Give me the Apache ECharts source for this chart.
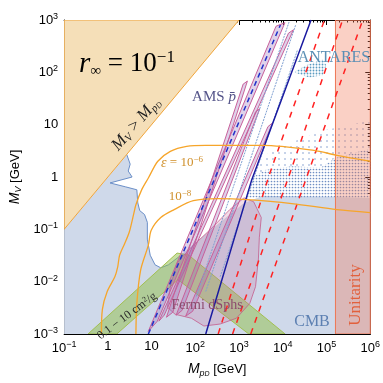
<!DOCTYPE html>
<html>
<head>
<meta charset="utf-8">
<script src="https://cdn.jsdelivr.net/npm/echarts@6/dist/echarts.min.js"></script>
<style>
  html, body { margin: 0; padding: 0; background: #fff; }
  #chart { width: 383px; height: 383px; }
</style>
</head>
<body>
<div id="chart"></div>
<script>
// tick labels
var xTicks = [0.1, 1, 10, 100, 1e3, 1e4, 1e5, 1e6];
var yTicks = [1e-3, 1e-2, 0.1, 1, 10, 100, 1e3];

// regions and curves, points are [M_pD, M_V] in GeV
var forbidden = [[0.1, 0.1], [0.1, 1000], [1000, 1000]];
var cmbEdge = [[2.7, 2.7], [3.24, 1.76], [2.92, 1.3], [3.58, 1.0], [1.12, 0.77], [2.51, 0.65], [4.6, 0.57],
  [4.84, 0.32], [5.35, 0.228], [6.89, 0.192], [8.0, 0.136], [8.0, 0.065], [9.3, 0.032], [12.0, 0.021],
  [16.2, 0.0184], [24.3, 0.021], [44.5, 0.031]];
var cmbTop = [[105, 0.057], [369, 0.136], [1300, 0.32], [3560, 0.44], [1e6, 0.4]];
var cmbDots = [[1500, 0.4], [1950, 0.96], [3900, 1.36], [16000, 1.6], [73000, 1.5], [1.6e5, 2.3], [1e6, 3.5], [1e6, 0.4]];
var cmbSparse = [[1950, 0.96], [3000, 2], [6000, 3.5], [20000, 5], [1e5, 8], [1e6, 12], [1e6, 3.5], [1.6e5, 2.3],
  [73000, 1.5], [16000, 1.6], [3900, 1.36]];
var antares = [[17900, 100], [34400, 136], [80900, 176], [99000, 136], [80900, 88], [40000, 80]];
var unitarity = [[1.6e5, 1e-3], [1.6e5, 1e3], [1e6, 1e3], [1e6, 1e-3]];
var sidm = [[0.352, 1e-3], [38.2, 0.0352], [70, 0.0323], [11300, 1e-3], [1670, 1e-3], [40.2, 0.0109], [1.6, 1e-3]];
var fermi = [[1300, 0.40], [2150, 0.337], [3220, 0.168], [2910, 0.0706], [2770, 0.0272], [2380, 0.00805],
  [1760, 0.00385], [869, 0.002], [369, 0.00155], [157, 0.00142], [81.3, 0.002], [34.5, 0.00238],
  [23.1, 0.00323], [26.8, 0.00805], [38.2, 0.0228], [81.3, 0.0457], [223, 0.1], [611, 0.238]];
var amsStripes = [
  [[8.4, 0.00112], [7000, 760], [11200, 890], [13.5, 0.00175]],
  [[14.7, 0.00176], [13500, 560], [17500, 650], [19.5, 0.0023]],
  [[21.9, 0.00209], [1240, 59.4], [1550, 68], [30.5, 0.0026]],
  [[36.3, 0.00228], [2380, 17.6], [2950, 20], [50, 0.00284]],
  [[60.1, 0.00219], [4580, 9.17], [5890, 10.9], [87, 0.00272]]
];
var amsThin = [
  [[105, 0.00521], [13900, 917]],
  [[173, 0.00648], [19700, 805]],
  [[369, 0.0124], [21800, 272]]
];
var amsDash = [[8.43, 1e-3], [8810, 805]];
var vLine = [[173, 1e-3], [1945, 0.88], [44200, 1000]];
var redLines = [
  [[333, 1e-3], [5070, 1.19], [89600, 1000]],
  [[710, 1e-3], [14600, 1.19], [233000, 1000]],
  [[1850, 1e-3], [38000, 1.19], [672000, 1000]]
];
var eps6 = [[0.713, 1e-3], [0.75, 0.00296], [0.966, 0.00648], [1.445, 0.0124], [1.68, 0.0192], [1.86, 0.0323],
  [2.39, 0.0521], [3.08, 0.0878], [3.96, 0.209], [4.38, 0.296], [5.92, 0.568], [8.43, 0.958], [13.9, 2.0],
  [26.8, 3.09], [63.2, 3.85], [173, 4.02], [3560, 4.02], [51400, 3.23], [172000, 2.6], [1e6, 2.0]];
var eps8 = [[4.38, 1e-3], [4.6, 0.00385], [5.63, 0.0168], [8.43, 0.0499], [9.8, 0.0958], [16.2, 0.168],
  [32.8, 0.238], [90, 0.352], [333, 0.385], [1510, 0.368], [16100, 0.31], [172000, 0.238], [1e6, 0.209]];

var serif = '"Liberation Serif", "DejaVu Serif", serif';
var sans = '"Liberation Sans", Arial, sans-serif';

function dotPattern(step, r, color) {
  var c = document.createElement('canvas');
  c.width = step; c.height = step;
  var ctx = c.getContext('2d');
  ctx.fillStyle = color;
  ctx.beginPath();
  ctx.arc(step / 2, step / 2, r, 0, Math.PI * 2);
  ctx.fill();
  return { image: c, repeat: 'repeat' };
}

function poly(pts, style, z) {
  return {
    type: 'custom', coordinateSystem: 'cartesian2d', z: z, silent: true, clip: true,
    data: pts,
    renderItem: function (params, api) {
      if (params.dataIndex !== 0) return null;
      return {
        type: 'polygon',
        shape: { points: pts.map(function (p) { return api.coord(p); }) },
        style: style
      };
    }
  };
}

function curve(pts, color, width, type, z, smooth) {
  return {
    type: 'line', data: pts, symbol: 'none', silent: true, z: z, smooth: smooth || false,
    lineStyle: { color: color, width: width, type: type || 'solid' }
  };
}

function minors(lo, hi) {
  var out = [];
  for (var e = lo; e < hi; e++) {
    for (var k = 2; k <= 9; k++) out.push(k * Math.pow(10, e));
  }
  return out;
}

function powLabel(v) {
  var e = Math.round(Math.log10(v));
  if (e === 0) return '1';
  if (e === 1) return '10';
  return '10{sup|' + (e < 0 ? '\u2212' : '') + Math.abs(e) + '}';
}

var labRich = { sup: { fontSize: 9, fontFamily: sans, color: '#000', verticalAlign: 'top', padding: [0, 0, 7, 0] } };

function axis(dim, pos, ticks, range, showLabel) {
  return {
    type: 'log', logBase: 10, min: range[0], max: range[1], position: pos,
    axisLine: { show: true, onZero: false, lineStyle: { color: '#000', width: 1 } },
    axisTick: { show: true, inside: true, length: 5, customValues: ticks, lineStyle: { color: '#000' } },
    axisLabel: { show: showLabel, customValues: ticks, formatter: powLabel, fontSize: 13, color: '#000',
      fontFamily: sans, rich: labRich, margin: 6 },
    splitLine: { show: false }
  };
}

function minorAxis(pos, lo, hi, range) {
  return {
    type: 'log', logBase: 10, min: range[0], max: range[1], position: pos,
    axisLine: { show: false, onZero: false },
    axisTick: { show: true, inside: true, length: 2.5, customValues: minors(lo, hi), lineStyle: { color: '#000' } },
    axisLabel: { show: false },
    splitLine: { show: false }
  };
}

var xr = [0.1, 1e6], yr = [1e-3, 1e3];
var xMain = axis('x', 'bottom', xTicks, xr, true);
xMain.name = '{it|M}{sub|p}{ss|D} [GeV]';
xMain.nameLocation = 'middle';
xMain.nameGap = 27;
xMain.nameTextStyle = { fontSize: 13, fontFamily: sans, color: '#000', rich: {
  it: { fontSize: 14, fontStyle: 'italic', fontFamily: sans },
  sub: { fontSize: 9, fontStyle: 'italic', fontFamily: sans, verticalAlign: 'bottom', padding: [6, 0, 0, 0] },
  ss: { fontSize: 7, fontStyle: 'italic', fontFamily: sans, verticalAlign: 'bottom', padding: [10, 0, 0, 0] }
} };
var yMain = axis('y', 'left', yTicks, yr, true);
yMain.name = '{it|M}{sub|V} [GeV]';
yMain.nameLocation = 'middle';
yMain.nameGap = 38;
yMain.nameRotate = 90;
yMain.nameTextStyle = { fontSize: 13, fontFamily: sans, color: '#000', rich: {
  it: { fontSize: 14, fontStyle: 'italic', fontFamily: sans },
  sub: { fontSize: 9, fontStyle: 'italic', fontFamily: sans, verticalAlign: 'bottom', padding: [6, 0, 0, 0] }
} };

var series = [];
series.push(poly([[0.1, 1e-3], [0.1, 0.1]].concat(cmbEdge, cmbTop, [[1e6, 1e-3]]),
  { fill: '#cfd9ea' }, 1));
series.push(poly(cmbSparse, { fill: dotPattern(6, 0.8, '#7f9ccc') }, 2));
series.push(poly(cmbDots, { fill: dotPattern(3, 0.85, '#6f8fc4') }, 2));
series.push(poly(antares, { fill: dotPattern(3, 0.9, '#5a9ac0') }, 2));
series.push(curve(cmbEdge, '#6b8fc8', 1, 'solid', 3));
series.push(poly(sidm, { fill: 'rgba(145,192,70,0.5)', stroke: '#a2bf52', lineWidth: 1 }, 4));
series.push(poly(fermi, { fill: 'rgba(200,95,145,0.22)', stroke: 'rgba(195,85,135,0.75)', lineWidth: 1 }, 5));
amsStripes.forEach(function (s) {
  series.push(poly(s, { fill: 'rgba(150,105,185,0.3)', stroke: '#c8609a', lineWidth: 1 }, 6));
});
amsThin.forEach(function (s) { series.push(curve(s, '#7fa0d2', 1, [2, 1], 6)); });
series.push(poly(forbidden, { fill: '#f5dfb8', stroke: '#f0a43a', lineWidth: 1 }, 7));
series.push(poly(unitarity, { fill: 'rgba(240,120,90,0.35)', stroke: '#ee7755', lineWidth: 1 }, 7));
series.push(curve(amsDash, '#2030c8', 1.5, [5, 4], 8));
series.push(curve(vLine, '#1a1aa0', 1.5, 'solid', 8));
redLines.forEach(function (s) { series.push(curve(s, '#ff2222', 1.5, [6, 6], 8)); });
series.push(curve(eps6, '#f6a52a', 1.3, 'solid', 9, 0.3));
series.push(curve(eps8, '#f6a52a', 1.3, 'solid', 9, 0.3));

var txt = function (x, y, text, size, color, rich, rot) {
  return {
    type: 'text', x: x, y: y, rotation: rot || 0, z: 100, silent: true,
    style: { text: text, font: size + 'px ' + serif, fill: color, align: 'center', verticalAlign: 'middle', rich: rich || {} }
  };
};

var graphics = [
  txt(127, 64, '{it|r}{sub|\u221e}{rm| = 10}{sup|\u22121}', 26, '#000', {
    it: { fontSize: 29, fontStyle: 'italic', fontFamily: serif },
    sub: { fontSize: 15, fontFamily: serif, verticalAlign: 'bottom', padding: [9, 0, 0, 0] },
    rm: { fontSize: 27, fontFamily: serif },
    sup: { fontSize: 17, fontFamily: serif, verticalAlign: 'top', padding: [0, 0, 11, 0] }
  }),
  txt(136, 124, '{it|M}{sub|V}{rm| > }{it|M}{sub|p}{ss|D}', 16, '#222', {
    it: { fontSize: 17, fontStyle: 'italic', fontFamily: serif },
    sub: { fontSize: 11, fontStyle: 'italic', fontFamily: serif, verticalAlign: 'bottom', padding: [6, 0, 0, 0] },
    ss: { fontSize: 8, fontStyle: 'italic', fontFamily: serif, verticalAlign: 'bottom', padding: [11, 0, 0, 0] },
    rm: { fontSize: 17, fontFamily: serif }
  }, 0.855),
  txt(214, 97, 'AMS {it|p\u0304}', 15, '#55558a', {
    it: { fontSize: 15, fontStyle: 'italic', fontFamily: serif, color: '#55558a' }
  }),
  txt(334, 58, 'ANTARES', 16, '#5b8fb5'),
  txt(182, 163, '{it|\u03b5}{rm| = 10}{sup|\u22126}', 13, '#cf8f2a', {
    it: { fontSize: 14, fontStyle: 'italic', fontFamily: serif, color: '#cf8f2a' },
    rm: { fontSize: 13, fontFamily: serif, color: '#cf8f2a' },
    sup: { fontSize: 9, fontFamily: serif, color: '#cf8f2a', verticalAlign: 'top', padding: [0, 0, 6, 0] }
  }),
  txt(180, 197, '{rm|10}{sup|\u22128}', 13, '#cf8f2a', {
    rm: { fontSize: 13, fontFamily: serif, color: '#cf8f2a' },
    sup: { fontSize: 9, fontFamily: serif, color: '#cf8f2a', verticalAlign: 'top', padding: [0, 0, 6, 0] }
  }),
  txt(207, 305, 'Fermi dSphs', 14, '#8c4a6c'),
  txt(312, 322, 'CMB', 16, '#5d80b2'),
  txt(356, 295, 'Unitarity', 17, '#e2603c', null, Math.PI / 2),
  txt(127, 316, '{rm|0.1 \u2212 10 cm}{sup|2}{rm|/g}', 12, '#2a2a2a', {
    rm: { fontSize: 12, fontFamily: serif, color: '#2a2a2a' },
    sup: { fontSize: 8, fontFamily: serif, color: '#2a2a2a', verticalAlign: 'top', padding: [0, 0, 5, 0] }
  }, 0.64)
];

var chart = echarts.init(document.getElementById('chart'), null, { renderer: 'canvas' });
chart.setOption({
  animation: false,
  backgroundColor: '#fff',
  grid: { left: 52, right: 11, top: 20, bottom: 45, containLabel: false },
  xAxis: [xMain, minorAxis('bottom', -1, 6, xr), axis('x', 'top', xTicks, xr, false), minorAxis('top', -1, 6, xr)],
  yAxis: [yMain, minorAxis('left', -3, 3, yr), axis('y', 'right', yTicks, yr, false), minorAxis('right', -3, 3, yr)],
  series: series,
  graphic: graphics
});
</script>
</body>
</html>
